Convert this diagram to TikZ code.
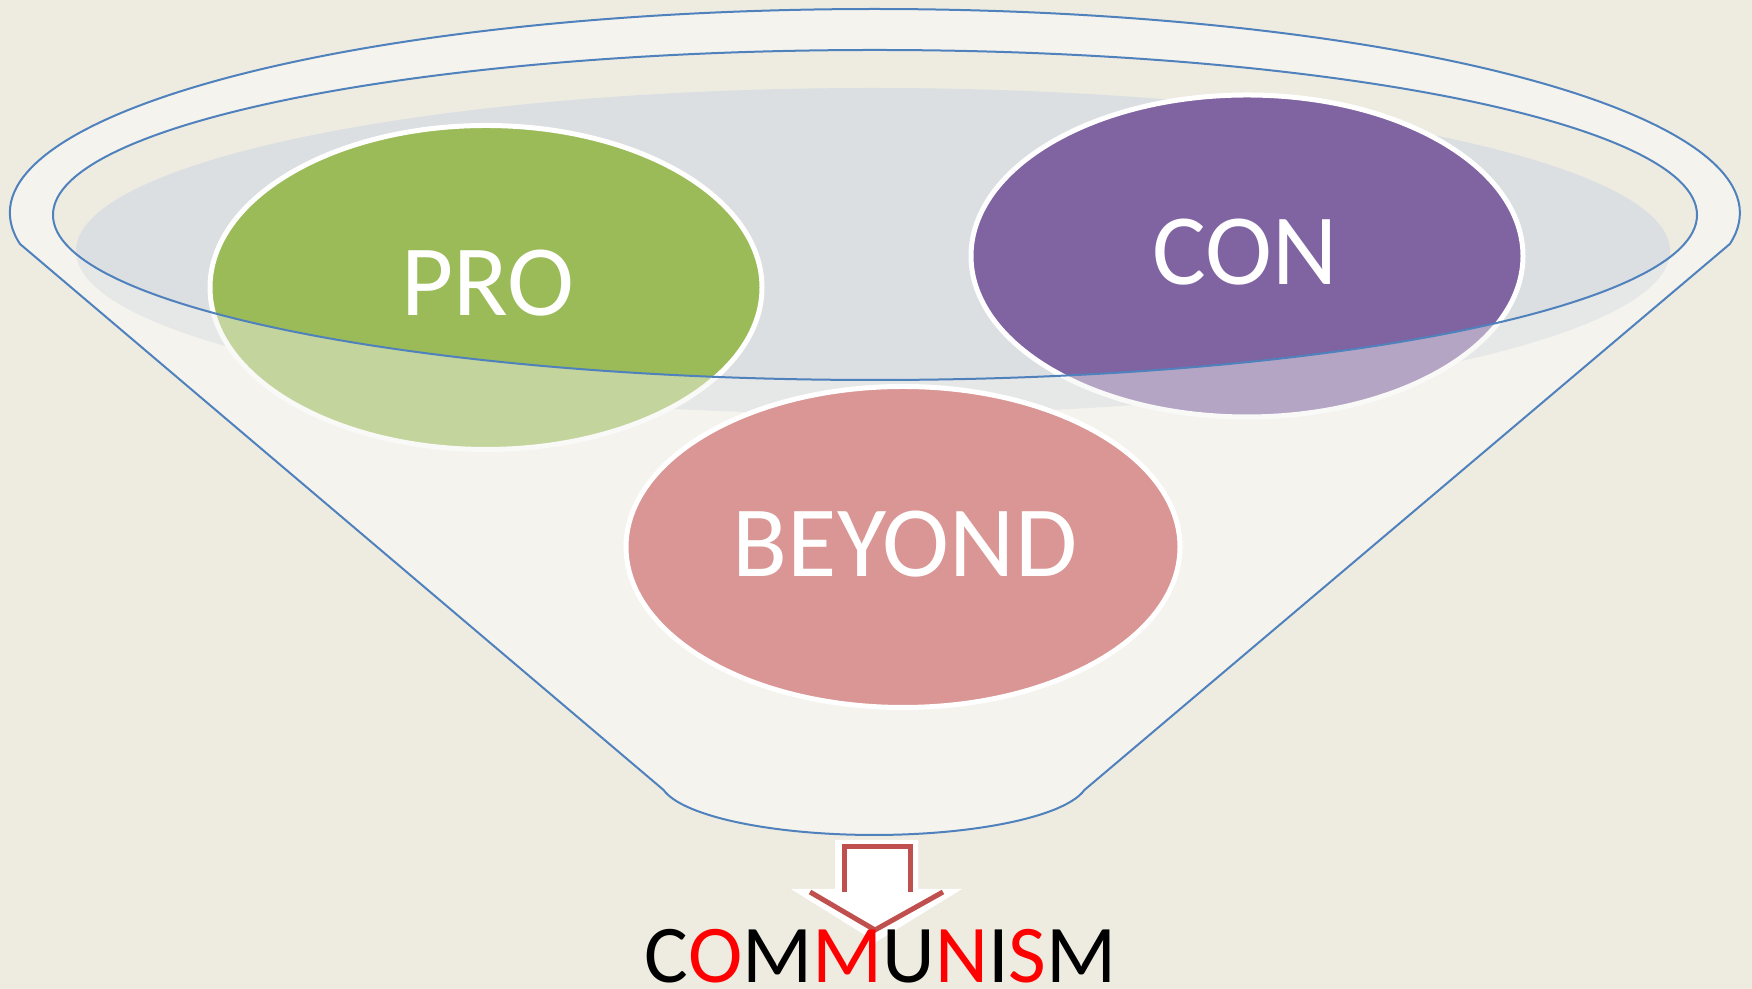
\documentclass[tikz,border=0pt]{standalone}
\usepackage{fontspec}
\setmainfont{Carlito}
\definecolor{bg}{HTML}{EEECE1}
\definecolor{funnelfill}{HTML}{F4F3EE}
\definecolor{rimblue}{HTML}{4F81BD}
\definecolor{haze}{HTML}{DBDFE2}
\definecolor{progreen}{HTML}{9BBB59}
\definecolor{conpurple}{HTML}{8064A2}
\definecolor{beyondpink}{HTML}{D99694}
\definecolor{arrowred}{HTML}{C0504D}
\definecolor{txtred}{HTML}{FF0000}
\begin{document}
\begin{tikzpicture}[x=0.5pt,y=0.5pt,
  blueline/.style={draw=rimblue,line width=1pt},
  bubble/.style={draw=white,line width=2.5pt},
  bigtext/.style={text=white,font=\fontsize{50.5}{60}\selectfont,inner sep=0pt,anchor=base},
  wordtext/.style={font=\fontsize{41}{48}\selectfont,inner sep=0pt,anchor=base}]
\useasboundingbox (0,0) rectangle (1752,989);
\fill[bg] (0,0) rectangle (1752,989);
% funnel body
\fill[funnelfill] (20,745) arc[start angle=188.74,end angle=-8.74,x radius=865,y radius=204]
  -- (1084.4,199) arc[start angle=-10.5,end angle=-169.5,x radius=214,y radius=55] -- cycle;
% inner opening
\fill[bg] (875,774) ellipse[x radius=822,y radius=165];
% haze
\fill[haze] (873,738) ellipse[x radius=797,y radius=163];
% PRO and CON bubbles
\fill[progreen] (486,701.5) ellipse[x radius=276,y radius=162];
\draw[bubble] (486,701.5) ellipse[x radius=276,y radius=162];
\fill[conpurple] (1247,733) ellipse[x radius=276,y radius=161];
\draw[bubble] (1247,733) ellipse[x radius=276,y radius=161];
% front of funnel (translucent)
\fill[funnelfill,opacity=0.46,even odd rule]
  (20,745) arc[start angle=188.74,end angle=-8.74,x radius=865,y radius=204]
  -- (1084.4,199) arc[start angle=-10.5,end angle=-169.5,x radius=214,y radius=55] -- cycle
  (875,774) ellipse[x radius=822,y radius=165];
% outlines
\draw[blueline] (20,745) arc[start angle=188.74,end angle=-8.74,x radius=865,y radius=204]
  -- (1084.4,199) arc[start angle=-10.5,end angle=-169.5,x radius=214,y radius=55] -- cycle;
\draw[blueline] (875,774) ellipse[x radius=822,y radius=165];
% BEYOND bubble
\fill[beyondpink] (903,442) ellipse[x radius=277,y radius=160.5];
\draw[bubble] (903,442) ellipse[x radius=277,y radius=160.5];
% texts
\node[bigtext] (pro) at (488,673) {PRO};
\node[bigtext] (con) at (1245,704) {CON};
\node[bigtext] (beyond) at (905,412.5) {BEYOND};
% arrow
\fill[white] (835,149) -- (918,149) -- (918,100) -- (962,100) -- (876,47) -- (791,100) -- (835,100) -- cycle;
\draw[arrowred,line width=2.5pt,line join=miter]
  (844,97) -- (844,142) -- (910,142) -- (910,97);
\draw[arrowred,line width=2.5pt,line join=miter]
  (810,97) -- (875,59) -- (943,97);
% word
\node[wordtext] (word) at (880.5,6) {C\textcolor{txtred}{O}M\textcolor{txtred}{M}U\textcolor{txtred}{N}I\textcolor{txtred}{S}M};
\end{tikzpicture}
\end{document}
